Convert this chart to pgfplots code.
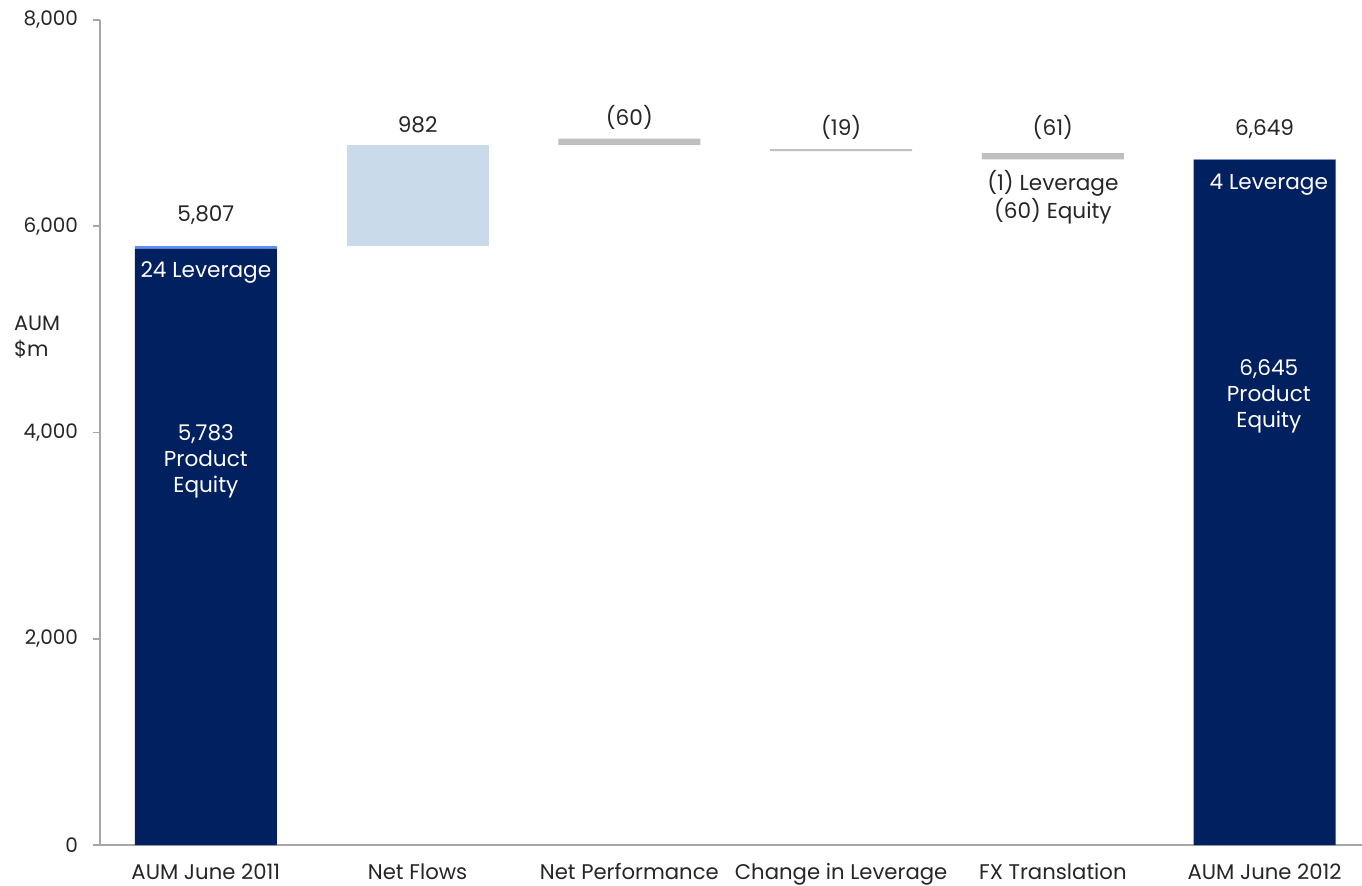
\documentclass[border=0pt]{standalone}
\usepackage{fontspec}
\setmainfont{Poppins}
\usepackage{pgfplots}
\usepackage{pgfplotstable}
\pgfplotsset{compat=1.18}
\definecolor{navy}{HTML}{002060}
\definecolor{levblue}{HTML}{5B8FF9}
\definecolor{flowblue}{HTML}{C9DAEB}
\definecolor{lossgray}{HTML}{BFBFBF}
\definecolor{axisgray}{HTML}{A6A6A6}
\definecolor{txt}{HTML}{262626}

% waterfall: invisible base + visible segments
\pgfplotstableread{
x base equity lev flows loss
0 0    5783 24 0   0
1 5807 0    0  982 0
2 6789 0    0  0   60
3 6729 0    0  0   19
4 6649 0    0  0   61
5 0    6645 4  0   0
}\wftable

\begin{document}
\begin{tikzpicture}
\begin{axis}[
    scale only axis,
    width=631pt, height=412.5pt,
    xmin=-0.5, xmax=5.46,
    ymin=0, ymax=8000,
    ybar stacked,
    bar width=0.67,
    clip=false,
    axis x line*=bottom,
    axis y line*=left,
    axis line style={axisgray, line width=1pt},
    xtick={0,...,5},
    xticklabels={AUM June 2011, Net Flows, Net Performance, Change in Leverage, FX Translation, AUM June 2012},
    xtick style={draw=none},
    minor xtick={-0.5,0.5,1.5,2.5,3.5,4.5},
    minor tick length=3.5pt,
    ytick={0,2000,4000,6000,8000},
    major tick length=3.5pt,
    tick style={axisgray, line width=0.8pt},
    tick align=outside,
    scaled y ticks=false,
    /pgf/number format/1000 sep={,},
    /pgf/number format/assume math mode=true,
    yticklabel style={font=\fontsize{10}{12}\selectfont, text=txt, xshift=-4pt},
    xticklabel style={font=\fontsize{10.6}{12}\selectfont, text=txt, yshift=-2.2pt},
]
\addplot[fill=none, draw=none] table[x=x, y=base] {\wftable};
\addplot[fill=navy, draw=none] table[x=x, y=equity] {\wftable};
\addplot[fill=levblue, draw=none] table[x=x, y=lev] {\wftable};
\addplot[fill=flowblue, draw=none] table[x=x, y=flows] {\wftable};
\addplot[fill=lossgray, draw=none] table[x=x, y=loss] {\wftable};

\coordinate (ll) at (rel axis cs:0,0);
\coordinate (ur) at (rel axis cs:1,1);
\coordinate (t0) at (axis cs:0,6105);
\coordinate (t1) at (axis cs:1,6982);
\coordinate (t2) at (axis cs:2,7059);
\coordinate (t3) at (axis cs:3,6962);
\coordinate (t4) at (axis cs:4,6962);
\coordinate (t5) at (axis cs:5,6943);
\coordinate (fx) at (axis cs:4,6285);
\coordinate (l0) at (axis cs:0,5555);
\coordinate (e0) at (axis cs:0,3723);
\coordinate (l5) at (axis cs:5.02,6400);
\coordinate (e5) at (axis cs:5.02,4355);
\coordinate (yl) at (rel axis cs:0,0.616);
\end{axis}

\begin{scope}[every node/.style={font=\fontsize{10.8}{13}\selectfont, text=txt, align=center}]
\node at (t0) {5,807};
\node at (t1) {982};
\node at (t2) {(60)};
\node at (t3) {(19)};
\node at (t4) {(61)};
\node at (t5) {6,649};
\node at (fx) {(1) Leverage\\(60) Equity};
\node[text=white] at (l0) {24 Leverage};
\node[text=white] at (e0) {5,783\\Product\\Equity};
\node[text=white] at (l5) {4 Leverage};
\node[text=white] at (e5) {6,645\\Product\\Equity};
\node[align=left, anchor=west, font=\fontsize{10.4}{13}\selectfont] at ([xshift=-46.5pt]yl) {AUM\\\$m};
\end{scope}

\pgfresetboundingbox
\path ([shift={(-50pt,-20pt)}]ll) rectangle ([shift={(0pt,10pt)}]ur);
\end{tikzpicture}
\end{document}
